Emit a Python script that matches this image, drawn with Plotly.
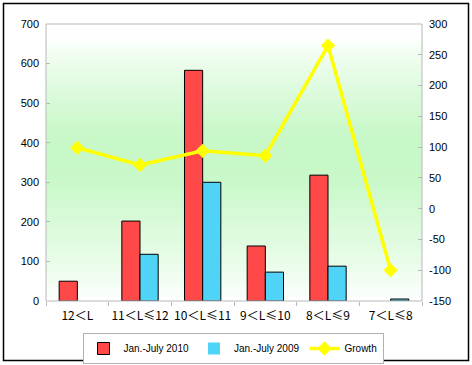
import plotly.graph_objects as go

categories = ["12＜L", "11＜L≤12", "10＜L≤11", "9＜L≤10", "8＜L≤9", "7＜L≤8"]
sales_2010 = [50, 202, 583, 139, 318, 0]
sales_2009 = [0, 118, 300, 73, 88, 5]
growth = [99, 71, 94, 86, 265, -100]
left_ticks = [0, 100, 200, 300, 400, 500, 600, 700]
right_ticks = [-150, -100, -50, 0, 50, 100, 150, 200, 250, 300]
right_tick_labels = ["-150", "-100", "-50", "0", "50", "100", "150", "200", "250", "300"]

fig = go.Figure()

fig.add_trace(go.Bar(x=categories, y=sales_2010, name="Jan.-July 2010",
                     marker=dict(color="#ff4848",
                                 line=dict(color="black", width=[0 if v == 0 else 1 for v in sales_2010]))))
fig.add_trace(go.Bar(x=categories, y=sales_2009, name="Jan.-July 2009",
                     marker=dict(color="#4fd4f7",
                                 line=dict(color="black", width=[0 if v == 0 else 1 for v in sales_2009]))))
fig.add_trace(go.Scatter(x=categories, y=growth, name="Growth", yaxis="y2",
                         mode="lines+markers",
                         line=dict(color="#ffff00", width=3.5),
                         marker=dict(symbol="diamond", size=11, color="#ffff00")))

# gradient background stripes
shapes = []
n = 60
for i in range(n):
    y0 = i / n
    y1 = (i + 1) / n
    yc = (y0 + y1) / 2
    if yc < 0.45:
        f = yc / 0.45
    elif yc < 0.6:
        f = 1.0
    else:
        f = max(0.0, 1 - (yc - 0.6) / 0.35)
    f = f ** 0.8
    r = int(round(255 - f * (255 - 200)))
    g = int(round(255 - f * (255 - 248)))
    b = int(round(255 - f * (255 - 200)))
    shapes.append(dict(type="rect", xref="x domain", yref="y domain",
                       x0=0, x1=1, y0=y0, y1=y1 + 0.002, layer="below",
                       line=dict(width=0), fillcolor=f"rgb({r},{g},{b})"))
# plot border
shapes.append(dict(type="rect", xref="x domain", yref="y domain", x0=0, x1=1, y0=0, y1=1,
                   line=dict(color="#b8b8b8", width=1), layer="above"))
# outer border
shapes.append(dict(type="rect", xref="paper", yref="paper",
                   x0=(3.5 - 46) / 376, x1=(468.5 - 46) / 376,
                   y0=(301 - 360.5) / 277, y1=(301 - 3.5) / 277,
                   line=dict(color="black", width=1.5), layer="above"))

fig.update_layout(
    width=472, height=365,
    margin=dict(l=46, r=50, t=24, b=64, autoexpand=False),
    paper_bgcolor="white", plot_bgcolor="rgba(0,0,0,0)",
    font=dict(family="Liberation Sans, Arial, sans-serif", size=11, color="black"),
    barmode="group", bargap=0.42, bargroupgap=0,
    shapes=shapes,
    showlegend=True,
    legend=dict(orientation="h", xref="container", yref="container",
                x=233 / 472, xanchor="center", y=(365 - 348.5) / 365,
                yanchor="middle", bordercolor="#b0b0b0", borderwidth=1,
                bgcolor="white", font=dict(size=10), traceorder="normal",
                itemwidth=30),
    xaxis=dict(tickfont=dict(family="Noto Sans CJK SC, sans-serif", size=12),
               tickangle=0,
               ticks="outside", tickson="boundaries", ticklen=4, tickcolor="#b8b8b8",
               showgrid=False, zeroline=False, showline=False, automargin=False,
               ticklabelstandoff=6),
    yaxis=dict(range=[0, 700], tickvals=left_ticks, ticks="inside", ticklen=4,
               tickcolor="#b8b8b8", showgrid=False, zeroline=False, showline=False,
               ticklabelstandoff=6, automargin=False),
    yaxis2=dict(range=[-150, 300], tickvals=right_ticks, ticktext=right_tick_labels,
                overlaying="y", side="right",
                ticks="inside", ticklen=4, tickcolor="#b8b8b8", showgrid=False,
                zeroline=False, showline=False, ticklabelstandoff=6, automargin=False),
)

fig.write_html("out.html", config={"displayModeBar": False},
               post_script="document.body.style.margin='0';document.body.style.overflow='hidden';")
